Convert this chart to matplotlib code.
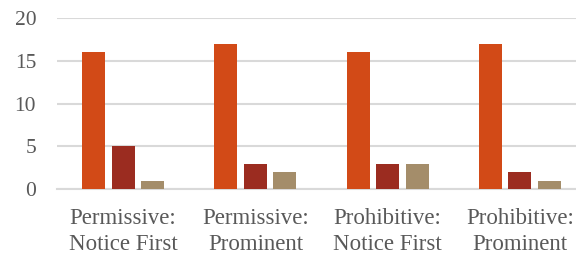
import matplotlib
matplotlib.use("Agg")
import matplotlib.pyplot as plt
import numpy as np

categories = ["Permissive:\nNotice First", "Permissive:\nProminent",
              "Prohibitive:\nNotice First", "Prohibitive:\nProminent"]
series1 = [16, 17, 16, 17]
series2 = [5, 3, 3, 2]
series3 = [1, 2, 3, 1]
yticks = [0, 5, 10, 15, 20]

colors = ["#D24A17", "#9B2C20", "#A48D6A"]

plt.rcParams['font.family'] = ['Liberation Serif', 'DejaVu Serif']

fig = plt.figure(figsize=(5.76, 2.59), dpi=100)
ax = fig.add_axes([57/576, 1 - 189.3/259, (576 - 57)/576, (189.3 - 18)/259])

x = np.arange(len(categories))
w = 0.174
off = 0.223
for i, (vals, c) in enumerate(zip([series1, series2, series3], colors)):
    ax.bar(x + (i - 1) * off, vals, width=w, color=c, zorder=3)

ax.set_xlim(-0.5, 3.424)
ax.set_ylim(0, 20)
ax.set_yticks(yticks)
ax.yaxis.grid(True, color="#D9D9D9", linewidth=1.5, zorder=0)
ax.set_axisbelow(True)
for s in ["top", "right", "left"]:
    ax.spines[s].set_visible(False)
ax.spines["bottom"].set_color("#D9D9D9")
ax.spines["bottom"].set_linewidth(1.5)
ax.set_xticks(x)
ax.set_xticklabels(categories, linespacing=1.3)
ax.tick_params(axis="y", length=0, pad=15, labelsize=15.5, labelcolor="#595959")
ax.tick_params(axis="x", length=0, pad=13.5, labelsize=16.5, labelcolor="#595959")

fig.savefig("out.png", dpi=100)
